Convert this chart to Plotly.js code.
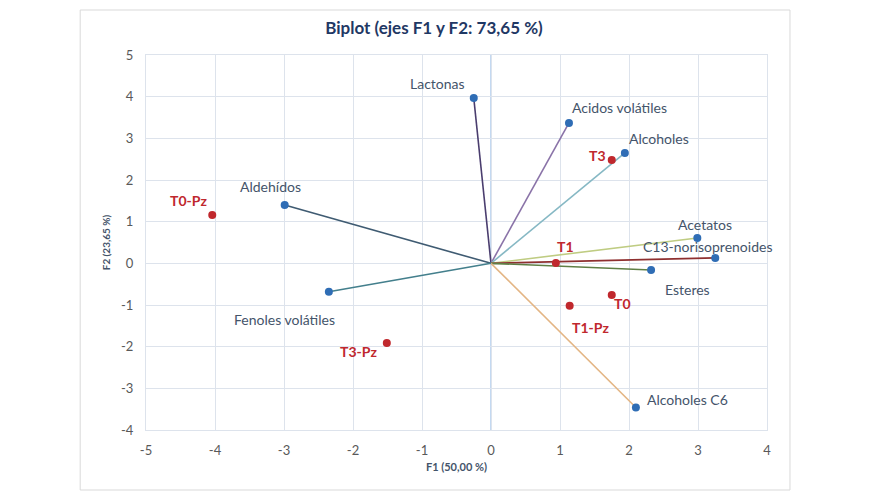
<!DOCTYPE html>
<html>
<head>
<meta charset="utf-8">
<script src="https://cdn.plot.ly/plotly-3.0.1.min.js"></script>
<style>html,body{margin:0;padding:0;background:#fff;}#chart{width:875px;height:500px;}</style>
</head>
<body>
<div id="chart"></div>
<script>
// Variables (loadings)
const varNames = ["Lactonas", "Acidos volátiles", "Alcoholes", "Acetatos", "C13-norisoprenoides", "Esteres", "Alcoholes C6", "Aldehídos", "Fenoles volátiles"];
const varF1 = [-0.25, 1.13, 1.94, 2.99, 3.25, 2.32, 2.10, -2.99, -2.35];
const varF2 = [3.97, 3.37, 2.65, 0.61, 0.13, -0.16, -3.46, 1.40, -0.68];
// Observations
const obsNames = ["T0-Pz", "T3", "T1", "T0", "T1-Pz", "T3-Pz"];
const obsF1 = [-4.04, 1.75, 0.94, 1.75, 1.14, -1.51];
const obsF2 = [1.16, 2.48, 0.01, -0.76, -1.02, -1.91];
// Axis ticks
const xTicks = [-5, -4, -3, -2, -1, 0, 1, 2, 3, 4];
const yTicks = [-4, -3, -2, -1, 0, 1, 2, 3, 4, 5];

// styles
const lineColors = ["#4a3d6e", "#8a73a8", "#86b8c4", "#bfcc82", "#8e2f2f", "#5f7f45", "#e3b584", "#3f5b72", "#437f8c"];
const varLabelOffsets = [[-36, -14], [51, -15], [34, -14], [8, -13], [-8, -11], [36, 19], [52, -8], [-14, -19], [-44, 28]];
const obsLabelOffsets = [[-24, -15], [-14, -5], [10, -16], [11, 8], [21, 22], [-28, 9]];
const FONT = 'Lato, sans-serif';

const traces = [];
varNames.forEach((n, i) => {
  traces.push({
    x: [0, varF1[i]], y: [0, varF2[i]], mode: 'lines', type: 'scatter',
    line: {color: lineColors[i], width: 1.6}, hoverinfo: 'skip', showlegend: false
  });
});
traces.push({
  x: varF1, y: varF2, text: varNames, mode: 'markers', type: 'scatter',
  marker: {color: '#2f6db5', size: 8}, showlegend: false
});
traces.push({
  x: obsF1, y: obsF2, text: obsNames, mode: 'markers', type: 'scatter',
  marker: {color: '#c0282d', size: 8}, showlegend: false
});

const annotations = [];
varNames.forEach((n, i) => {
  annotations.push({
    x: varF1[i], y: varF2[i], text: n, showarrow: false, xanchor: 'center', yanchor: 'middle',
    xshift: varLabelOffsets[i][0], yshift: -varLabelOffsets[i][1],
    font: {family: FONT, size: 14, color: '#44546a'}
  });
});
obsNames.forEach((n, i) => {
  annotations.push({
    x: obsF1[i], y: obsF2[i], text: '<b>' + n + '</b>', showarrow: false, xanchor: 'center', yanchor: 'middle',
    xshift: obsLabelOffsets[i][0], yshift: -obsLabelOffsets[i][1],
    font: {family: FONT, size: 14, color: '#c0282d'}
  });
});

const layout = {
  width: 875, height: 500,
  margin: {l: 146, r: 108, t: 55, b: 70},
  paper_bgcolor: '#ffffff', plot_bgcolor: '#ffffff',
  title: {text: '<b>Biplot (ejes F1 y F2: 73,65 %)</b>', x: 0.496, xanchor: 'center', y: 0.944, yanchor: 'middle',
    font: {family: FONT, size: 17, color: '#1f3864'}},
  xaxis: {
    range: [-5, 4], tickvals: xTicks, ticktext: xTicks.map(String), fixedrange: true,
    showgrid: true, gridcolor: '#dde3ec', gridwidth: 1,
    zeroline: false,
    showline: true, linecolor: '#dde3ec', mirror: true, ticks: '', ticklen: 0,
    ticklabelstandoff: 8,
    tickfont: {family: FONT, size: 13, color: '#595959'},
    title: {text: '<b>F1 (50,00 %)</b>', standoff: 6, font: {family: FONT, size: 11, color: '#44546a'}}
  },
  yaxis: {
    range: [-4, 5], tickvals: yTicks, ticktext: yTicks.map(String), fixedrange: true,
    showgrid: true, gridcolor: '#dde3ec', gridwidth: 1,
    zeroline: false,
    showline: true, linecolor: '#dde3ec', mirror: true, ticks: '', ticklen: 0,
    ticklabelstandoff: 9,
    tickfont: {family: FONT, size: 13, color: '#595959'},
    title: {text: '<b>F2 (23,65 %)</b>', standoff: 8, font: {family: FONT, size: 10, color: '#44546a'}}
  },
  annotations: annotations,
  shapes: [{
    type: 'rect', xref: 'paper', yref: 'paper',
    x0: -0.106, x1: 1.037, y0: -0.16, y1: 1.12,
    line: {color: '#d9d9d9', width: 1}, fillcolor: 'rgba(0,0,0,0)', layer: 'below'
  }, {
    type: 'line', xref: 'x', yref: 'paper', x0: 0, x1: 0, y0: 0, y1: 1,
    line: {color: '#9dc0e8', width: 1.2}, layer: 'below'
  }],
  showlegend: false
};

Plotly.newPlot('chart', traces, layout, {displayModeBar: false, staticPlot: true});
</script>
</body>
</html>
